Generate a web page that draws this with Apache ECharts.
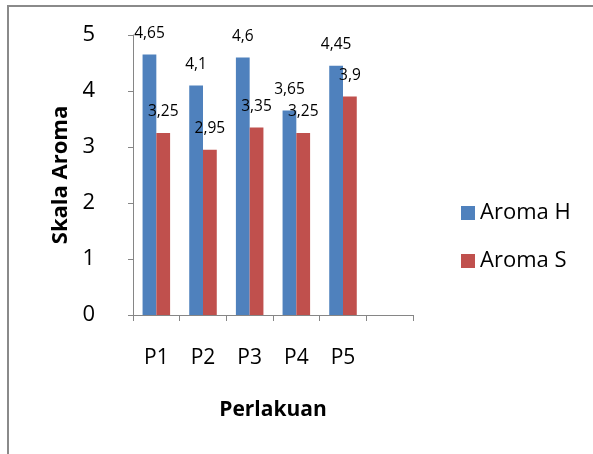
<!DOCTYPE html>
<html>
<head>
<meta charset="utf-8">
<script src="https://cdn.jsdelivr.net/npm/echarts@6/dist/echarts.min.js"></script>
<style>
  html, body { margin: 0; padding: 0; background: #ffffff; }
  #chart { width: 593px; height: 454px; }
</style>
</head>
<body>
<div id="chart"></div>
<script>
// Treatments on the x axis (last slot is left empty)
const categories = ['P1', 'P2', 'P3', 'P4', 'P5', ''];
// Aroma scores per treatment
const aromaH = [4.65, 4.1, 4.6, 3.65, 4.45, '-'];
const aromaS = [3.25, 2.95, 3.35, 3.25, 3.9, '-'];
const seriesNames = ['Aroma H', 'Aroma S'];
const yTicks = { min: 0, max: 5, interval: 1 };

const FONT = '"Open Sans", "Noto Sans", sans-serif';
const AXIS_COLOR = '#868686';

// Values shown with a decimal comma
const fmt = v => String(v).replace('.', ',');

const labelStyle = {
  show: true,
  position: 'top',
  distance: 13,
  fontFamily: FONT,
  fontSize: 15.5,
  color: '#000000',
  formatter: p => fmt(p.value)
};

const chart = echarts.init(document.getElementById('chart'), null, { renderer: 'canvas' });

chart.setOption({
  animation: false,
  backgroundColor: '#ffffff',
  graphic: [{
    type: 'rect',
    shape: { x: 8, y: 6, width: 800, height: 800 },
    style: { fill: 'none', stroke: '#8a8a8a', lineWidth: 2 },
    silent: true
  }],
  grid: { left: 133, right: 180, top: 35, bottom: 139 },
  legend: {
    orient: 'vertical',
    left: 456,
    top: 197,
    itemWidth: 14,
    itemHeight: 14,
    itemGap: 26,
    icon: 'rect',
    data: seriesNames,
    textStyle: { fontFamily: FONT, fontSize: 22, color: '#000000', lineHeight: 22 }
  },
  xAxis: {
    type: 'category',
    data: categories,
    name: 'Perlakuan',
    nameLocation: 'middle',
    nameGap: 85,
    nameTextStyle: { fontFamily: FONT, fontSize: 21, fontWeight: 'bold', color: '#000000' },
    axisLine: { show: true, lineStyle: { color: AXIS_COLOR, width: 1 } },
    axisTick: { show: true, length: 6, lineStyle: { color: AXIS_COLOR } },
    axisLabel: { fontFamily: FONT, fontSize: 21, color: '#000000', margin: 33 },
    splitLine: { show: false }
  },
  yAxis: {
    type: 'value',
    min: yTicks.min,
    max: yTicks.max,
    interval: yTicks.interval,
    name: 'Skala Aroma',
    nameLocation: 'middle',
    nameRotate: 90,
    nameGap: 61,
    nameTextStyle: { fontFamily: FONT, fontSize: 22, fontWeight: 'bold', color: '#000000' },
    axisLine: { show: true, lineStyle: { color: AXIS_COLOR, width: 1 } },
    axisTick: { show: true, length: 5, lineStyle: { color: AXIS_COLOR } },
    axisLabel: { fontFamily: FONT, fontSize: 22, color: '#000000', margin: 38 },
    splitLine: { show: false }
  },
  series: [
    {
      name: seriesNames[0],
      type: 'bar',
      data: aromaH,
      barGap: '0%',
      barCategoryGap: '41%',
      itemStyle: { color: '#4F81BD' },
      label: labelStyle
    },
    {
      name: seriesNames[1],
      type: 'bar',
      data: aromaS,
      barGap: '0%',
      barCategoryGap: '41%',
      itemStyle: { color: '#C0504D' },
      label: labelStyle
    }
  ]
});
</script>
</body>
</html>
